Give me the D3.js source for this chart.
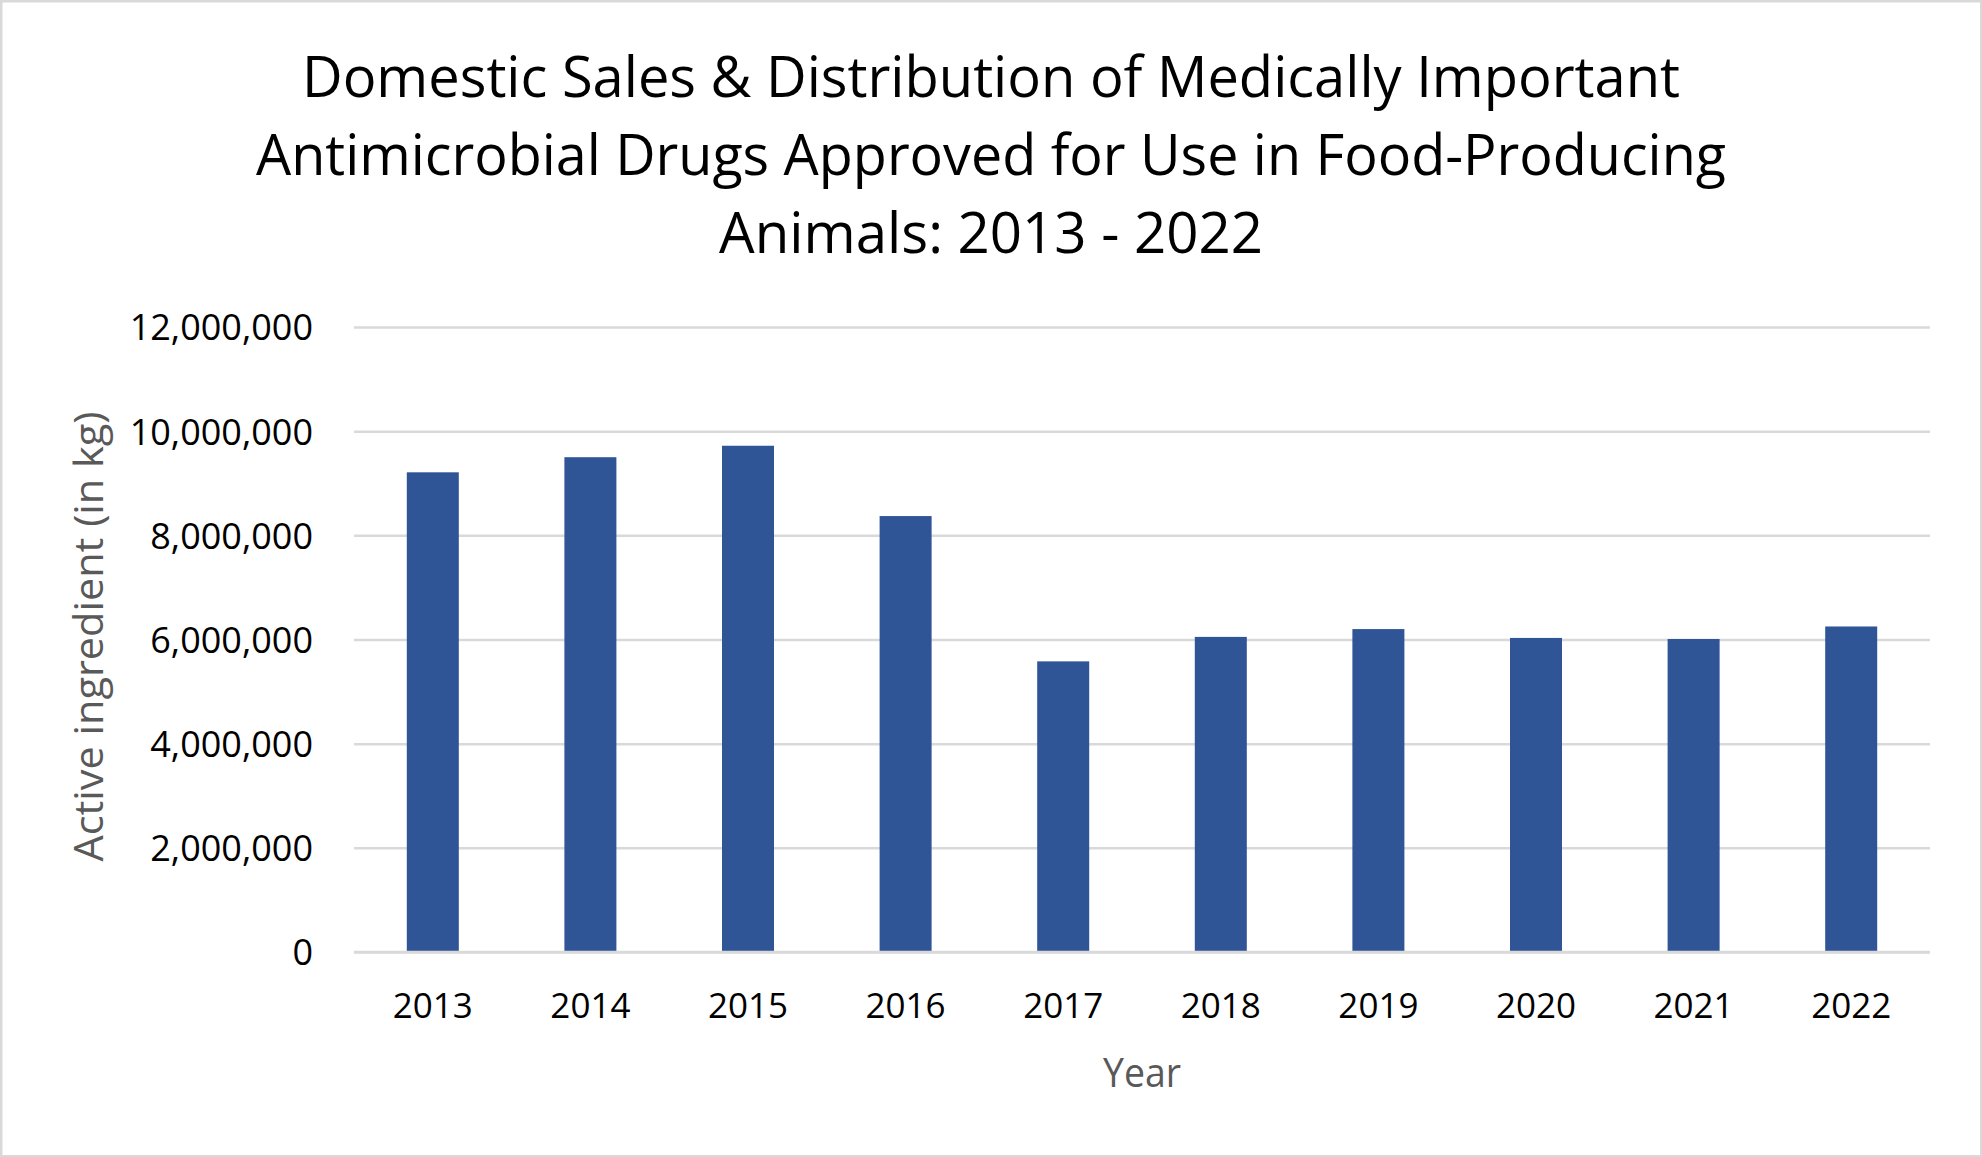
<!DOCTYPE html>
<html>
<head>
<meta charset="utf-8">
<script src="https://cdn.jsdelivr.net/npm/d3@7"></script>
<style>
  html, body { margin: 0; padding: 0; background: #ffffff; }
  svg { display: block; }
  text { font-family: "Open Sans", "Noto Sans", sans-serif; }
</style>
</head>
<body>
<svg id="chart" width="1982" height="1157"></svg>
<script>
// ---- Data ----
const years = ["2013", "2014", "2015", "2016", "2017", "2018", "2019", "2020", "2021", "2022"];
const activeIngredientKg = [9210000, 9500000, 9720000, 8370000, 5580000, 6050000, 6200000, 6030000, 6010000, 6250000];
const yTickValues = [0, 2000000, 4000000, 6000000, 8000000, 10000000, 12000000];
const titleLines = [
  "Domestic Sales & Distribution of Medically Important",
  "Antimicrobial Drugs Approved for Use in Food-Producing",
  "Animals: 2013 - 2022"
];
const xAxisTitle = "Year";
const yAxisTitle = "Active ingredient (in kg)";

// ---- Layout ----
const W = 1982, H = 1157;
const plot = { left: 354, right: 1930, top: 327, bottom: 952 };
const barColor = "#2F5597";
const gridColor = "#d9d9d9";

const svg = d3.select("#chart");

// chart area background + border
svg.append("rect")
  .attr("x", 1).attr("y", 1)
  .attr("width", W - 1.5).attr("height", H - 1.5)
  .attr("fill", "#ffffff")
  .attr("stroke", gridColor)
  .attr("stroke-width", 3);

// helper: set text to an exact width
function fitText(sel, target) {
  sel.attr("textLength", target).attr("lengthAdjust", "spacingAndGlyphs");
}

// ---- Scales ----
const x = d3.scaleBand()
  .domain(years)
  .range([plot.left, plot.right])
  .paddingInner(0.67)
  .paddingOuter(0.335);

const y = d3.scaleLinear()
  .domain([0, 12000000])
  .range([plot.bottom, plot.top]);

// ---- Gridlines ----
const grid = svg.append("g")
  .attr("transform", `translate(${plot.left},0)`)
  .call(d3.axisLeft(y).tickValues(yTickValues).tickSize(-(plot.right - plot.left)).tickFormat(""));
grid.select(".domain").remove();
grid.selectAll(".tick line")
  .attr("stroke", gridColor)
  .attr("stroke-width", 2.5);

// ---- Bars ----
svg.append("g")
  .selectAll("rect")
  .data(years.map((yr, i) => ({ yr, v: activeIngredientKg[i] })))
  .join("rect")
  .attr("x", d => x(d.yr))
  .attr("width", x.bandwidth())
  .attr("y", d => y(d.v))
  .attr("height", d => y(0) - y(d.v))
  .attr("fill", barColor);

// ---- Y axis labels ----
const fmt = d3.format(",");
const yAxis = svg.append("g")
  .attr("transform", `translate(${plot.left},0)`)
  .call(d3.axisLeft(y).tickValues(yTickValues).tickSize(0).tickPadding(41).tickFormat(d => fmt(d)));
yAxis.select(".domain").remove();
yAxis.selectAll(".tick text")
  .attr("font-family", "'Open Sans', sans-serif")
  .attr("font-size", 36)
  .attr("fill", "#000000")
  .attr("dy", "0.36em");

// ---- X axis ----
const xAxis = svg.append("g")
  .attr("transform", `translate(0,${plot.bottom})`)
  .call(d3.axisBottom(x).tickSize(0).tickPadding(0));
xAxis.select(".domain")
  .attr("d", `M${plot.left},0H${plot.right}`)
  .attr("stroke", gridColor)
  .attr("stroke-width", 2.5);
xAxis.selectAll(".tick text")
  .attr("font-family", "'Open Sans', sans-serif")
  .attr("font-size", 35)
  .attr("fill", "#000000")
  .attr("y", 66)
  .attr("dy", 0);

// ---- Axis titles ----
svg.append("text")
  .attr("x", (plot.left + plot.right) / 2)
  .attr("y", 1087)
  .attr("text-anchor", "middle")
  .attr("font-size", 40)
  .attr("fill", "#595959")
  .text(xAxisTitle)
  .call(fitText, 78);

svg.append("text")
  .attr("transform", `translate(103,${(plot.top + plot.bottom) / 2 - 3}) rotate(-90)`)
  .attr("text-anchor", "middle")
  .attr("font-size", 40)
  .attr("fill", "#595959")
  .text(yAxisTitle)
  .call(fitText, 450);

// ---- Title ----
const titleWidths = [1378, 1470, 544];
const titleBase = [96.7, 175, 253.3];
svg.append("g")
  .selectAll("text")
  .data(titleLines)
  .join("text")
  .attr("x", W / 2)
  .attr("y", (d, i) => titleBase[i])
  .attr("text-anchor", "middle")
  .attr("font-size", 56)
  .attr("fill", "#000000")
  .text(d => d)
  .each(function(d, i) { d3.select(this).call(fitText, titleWidths[i]); });
</script>
</body>
</html>
